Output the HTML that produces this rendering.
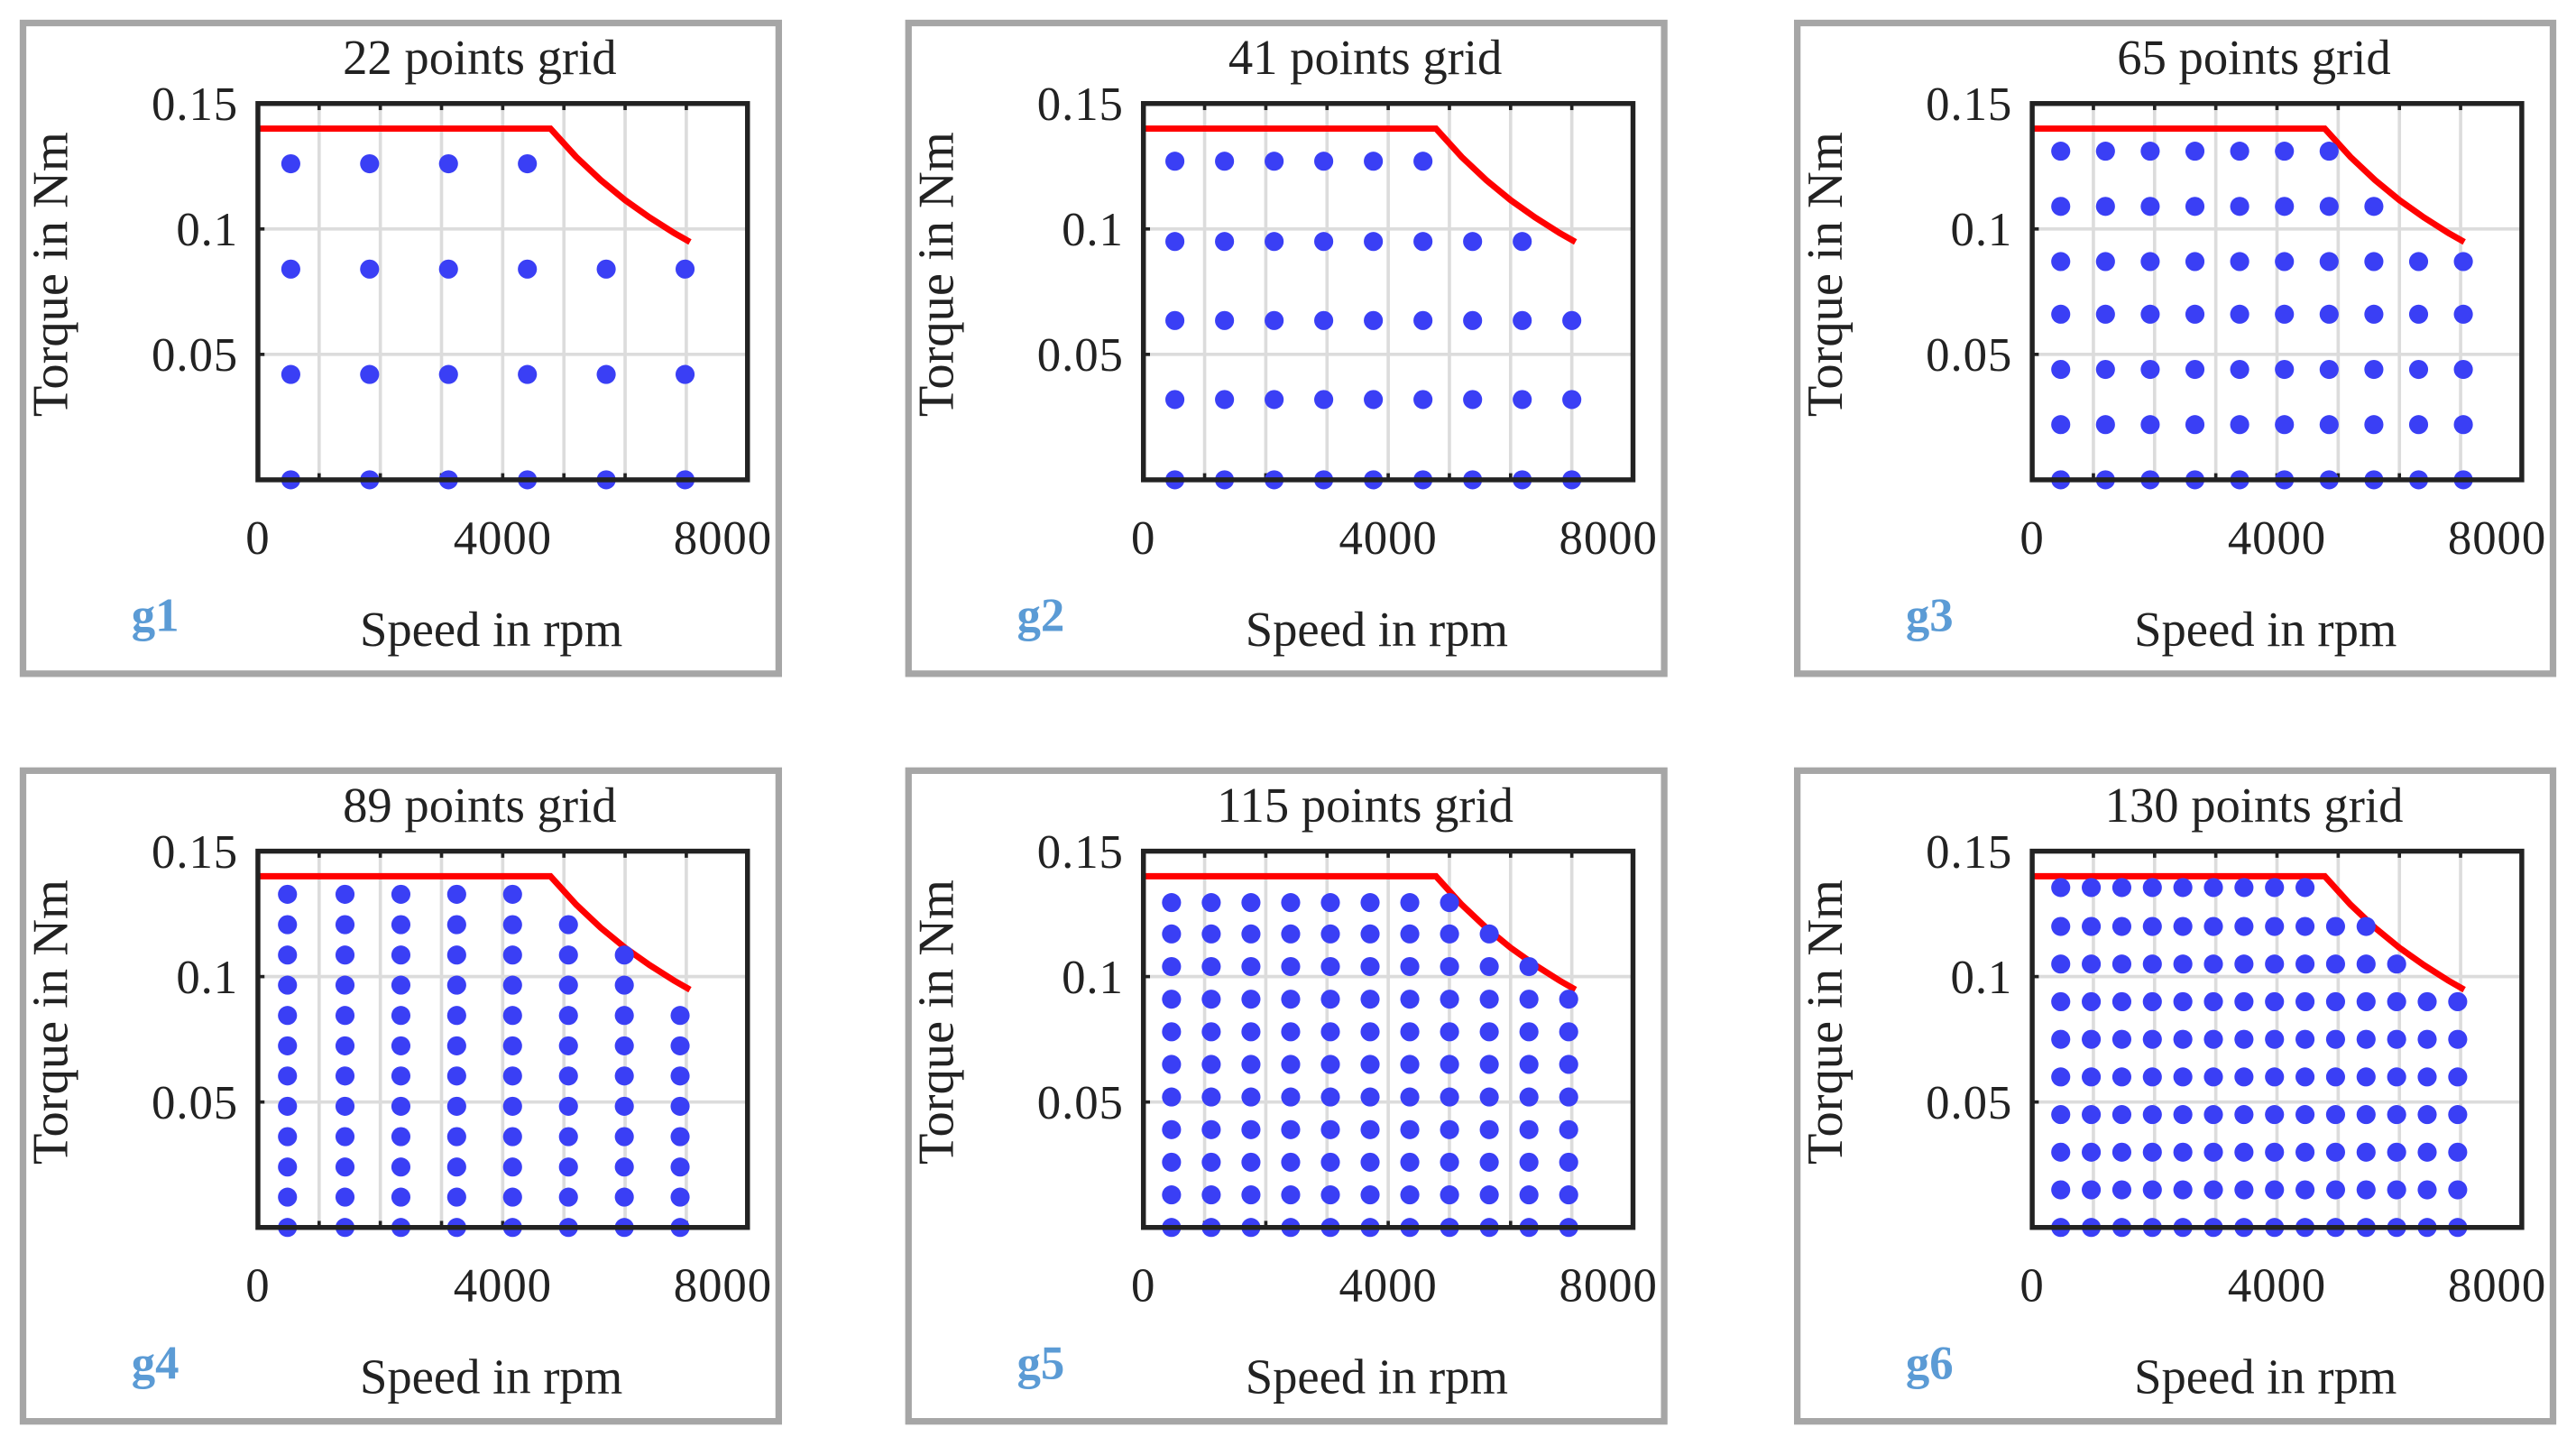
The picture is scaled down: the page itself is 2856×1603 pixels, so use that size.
<!DOCTYPE html>
<html><head><meta charset="utf-8"><style>
html,body{margin:0;padding:0;background:#fff;}
svg{display:block;}
text{font-family:"Liberation Serif",serif;fill:#222;}
</style></head><body>
<svg id="fig" width="2856" height="1603" viewBox="0 0 1568 880" preserveAspectRatio="none" xmlns="http://www.w3.org/2000/svg"></svg>
<script>
// ---- data ----
const titles = ["22 points grid","41 points grid","65 points grid","89 points grid","115 points grid","130 points grid"];
const tags = ["g1","g2","g3","g4","g5","g6"];
const speeds1 = [537,1825,3114,4403,5691,6980];
const torques1 = [0,0.042,0.084,0.126];
const counts1 = [4,4,4,4,3,3];
const speeds2 = [514,1325,2136,2946,3757,4568,5379,6190,7000];
const torques2 = [0,0.032,0.0635,0.095,0.127];
const counts2 = [5,5,5,5,5,5,4,4,3];
const speeds3 = [466,1197,1928,2659,3390,4121,4852,5583,6314,7045];
const torques3 = [0,0.022,0.044,0.066,0.087,0.109,0.131];
const counts3 = [7,7,7,7,7,7,7,6,5,5];
const speeds4 = [483,1423,2336,3248,4161,5074,5987,6899];
const torques4 = [0,0.0121,0.0241,0.0362,0.0483,0.0604,0.0724,0.0845,0.0966,0.1086,0.1207,0.1328];
const counts4 = [12,12,12,12,12,11,10,8];
const speeds5 = [459,1108,1757,2406,3055,3704,4353,5002,5651,6300,6949];
const torques5 = [0,0.013,0.026,0.039,0.052,0.065,0.078,0.091,0.104,0.117,0.1295];
const counts5 = [11,11,11,11,11,11,11,11,10,9,8];
const speeds6 = [466,965,1464,1963,2462,2961,3460,3959,4458,4957,5456,5955,6454,6953];
const torques6 = [0,0.015,0.030,0.045,0.060,0.075,0.090,0.105,0.120,0.1355];
const counts6 = [10,10,10,10,10,10,10,10,10,9,9,8,7,7];
const limitSpeed = [0,4780,5200,5600,6000,6400,6800,7060];
const limitTorque = [0.14,0.14,0.1287,0.1195,0.1115,0.1046,0.0984,0.0948];
const xTicks = [0,4000,8000];
const yTicks = [0.05,0.1,0.15];
const yTickLabels = ["0.05","0.1","0.15"];

const allSpeeds=[speeds1,speeds2,speeds3,speeds4,speeds5,speeds6];
const allTorques=[torques1,torques2,torques3,torques4,torques5,torques6];
const allCounts=[counts1,counts2,counts3,counts4,counts5,counts6];

const NS="http://www.w3.org/2000/svg";
const svg=document.getElementById('fig');
function mk(tag,attrs,parent){const e=document.createElementNS(NS,tag);for(const k in attrs)e.setAttribute(k,attrs[k]);(parent||svg).appendChild(e);return e;}

const frameX=[12,551,1092], frameY=[12,467];
for(let p=0;p<6;p++){
  const col=p%3,row=Math.floor(p/3);
  const fx=frameX[col], fy=frameY[row];
  const g=mk('g',{});
  
  
  const fr=mk('rect',{x:fx+2,y:fy+2,width:460,height:396,fill:'#fff',stroke:'#a6a6a6','stroke-width':4},g);
  
  
  const L=fx+145,R=fx+443,T=fy+51,B=fy+280;
  const X=v=>L+(v/8000)*(R-L);
  const Y=v=>B-(v/0.15)*(B-T);
  for(let k=1;k<8;k++){
    const gl=mk('line',{x1:X(k*1000),x2:X(k*1000),y1:T,y2:B,stroke:'#dcdcdc','stroke-width':2},g);
    
    
    mk('line',{x1:X(k*1000),x2:X(k*1000),y1:T,y2:T+4,stroke:'#222','stroke-width':2},g);
    mk('line',{x1:X(k*1000),x2:X(k*1000),y1:B,y2:B-4,stroke:'#222','stroke-width':2},g);
  }
  [0.05,0.1].forEach(v=>{
    const gl=mk('line',{x1:L,x2:R,y1:Y(v),y2:Y(v),stroke:'#dcdcdc','stroke-width':2},g);
    
    
    mk('line',{x1:L,x2:L+4,y1:Y(v),y2:Y(v),stroke:'#222','stroke-width':2},g);
  });
  const pts=limitSpeed.map((s,i)=>X(s)+','+Y(limitTorque[i])).join(' ');
  const pl=mk('polyline',{points:pts,fill:'none',stroke:'#ff0000','stroke-width':3.8},g);
  
  
  const sp=allSpeeds[p],tq=allTorques[p],ct=allCounts[p];
  sp.forEach((s,i)=>{
    for(let j=0;j<ct[i];j++){
      const c=mk('circle',{cx:X(s),cy:Y(tq[j]),r:5.8,fill:'#3a3ff5'},g);
      
      
    }
  });
  const ax=mk('rect',{x:L,y:T,width:R-L,height:B-T,fill:'none',stroke:'#222','stroke-width':3},g);
  
  
  xTicks.forEach((v,i)=>{
    const t=mk('text',{x:X(v)-(i==2?15:0),y:B+45,'text-anchor':'middle','font-size':29,'letter-spacing':0.5},g);
    t.textContent=String(v);
    
    
  });
  yTicks.forEach((v,i)=>{
    const t=mk('text',{x:L-12,y:Y(v)+10,'text-anchor':'end','font-size':29,'letter-spacing':0.5},g);
    t.textContent=yTickLabels[i];
    
    
  });
  const tt=mk('text',{x:(L+R)/2-14,y:fy+33,'text-anchor':'middle','font-size':30},g);
  tt.textContent=titles[p];
  
  
  const xl=mk('text',{x:(L+R)/2-7,y:fy+381,'text-anchor':'middle','font-size':30},g);
  xl.textContent='Speed in rpm';
  
  
  const cy=fy+155, cx=fx+29;
  const yl=mk('text',{x:cx,y:cy,'text-anchor':'middle','font-size':31,transform:'rotate(-90 '+cx+' '+cy+')'},g);
  yl.textContent='Torque in Nm';
  
  
  const tg=mk('text',{x:fx+68,y:fy+372,'font-size':29,'font-weight':'bold',style:'fill:#5b9bd5'},g);
  tg.textContent=tags[p];
  
  
}
</script>
</body></html>
